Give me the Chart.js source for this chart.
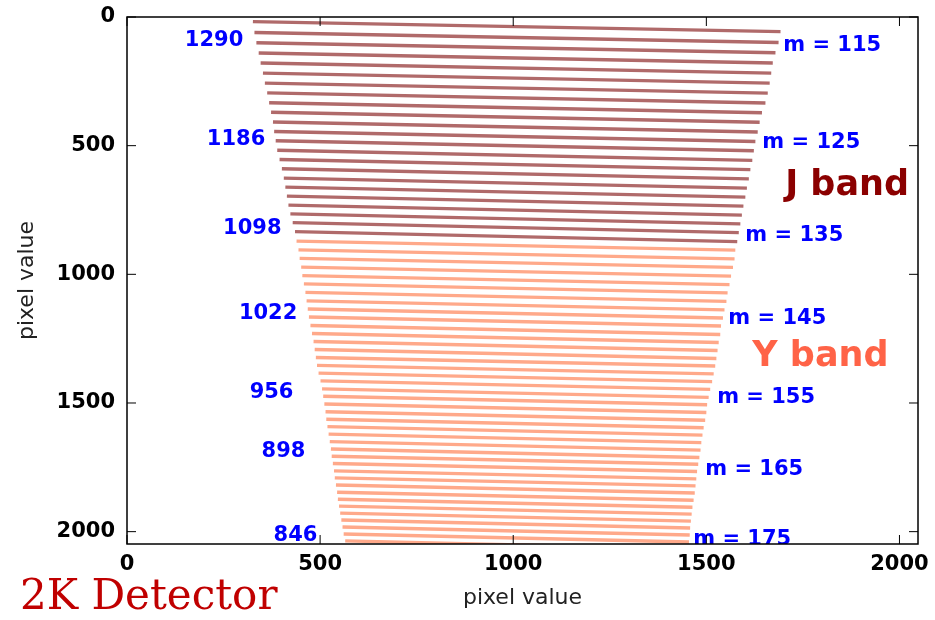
<!DOCTYPE html>
<html>
<head>
<meta charset="utf-8">
<script src="https://cdn.jsdelivr.net/npm/chart.js@4.4.1/dist/chart.umd.min.js"></script>
<style>
  html, body { margin: 0; padding: 0; background: #fff; }
  #wrap { width: 935px; height: 620px; }
</style>
</head>
<body>
<div id="wrap"><canvas id="c" width="935" height="620"></canvas></div>
<script>
// === Echelle order traces on the 2K detector (pixel coords) ===
const ORDERS = [114,115,116,117,118,119,120,121,122,123,124,125,126,127,128,129,130,131,132,133,134,135,136,
  137,138,139,140,141,142,143,144,145,146,147,148,149,150,151,152,153,154,155,156,
  157,158,159,160,161,162,163,164,165,166,167,168,169,170,171,172,173,174,175,176];
const J_LAST = 136; // orders up to here are J band, the rest Y band

const X_LEFT = [326,330,335,341,346,352,357,363,368,373,378,381,385,389,395,401,406,410,414,418,423,429,435,
  439,444,447,451,454,458,462,465,468,471,475,479,483,486,489,492,496,501,505,508,
  511,514,516,519,522,525,528,530,533,536,538,541,544,546,549,552,555,558,561,565];
const Y_LEFT = [18,60,100,140,179,218,257,295,333,370,408,445,481,518,554,590,626,661,696,731,765,799,834,
  871,905,938,972,1005,1037,1070,1103,1135,1166,1199,1230,1261,1292,1323,1354,1384,1414,1445,1474,
  1504,1534,1563,1592,1621,1650,1679,1707,1735,1764,1791,1819,1847,1874,1901,1928,1955,1982,2009,2036];
const X_RIGHT = [1692,1687,1679,1672,1668,1664,1659,1653,1644,1638,1633,1627,1623,1619,1614,1610,1605,1601,1596,1592,1588,1584,1580,
  1575,1573,1569,1564,1560,1555,1552,1547,1543,1538,1536,1532,1529,1526,1523,1519,1515,1510,1506,1502,
  1500,1497,1493,1490,1487,1485,1482,1479,1476,1474,1472,1470,1467,1464,1462,1460,1458,1457,1455,1454];
const Y_RIGHT = [57,99,139,179,218,257,296,334,372,409,447,484,520,557,593,629,665,700,735,770,804,838,873,
  906,940,973,1007,1040,1072,1105,1138,1170,1201,1234,1265,1296,1327,1356,1387,1417,1447,1478,1507,
  1537,1567,1596,1625,1654,1683,1712,1738,1766,1795,1822,1850,1878,1905,1932,1959,1986,2013,2040,2067];

const TICKS = [0, 500, 1000, 1500, 2000];

// order numbers on the right, wavelengths (nm) on the left
const ORDER_LABELS = ['m = 115','m = 125','m = 135','m = 145','m = 155','m = 165','m = 175'];
const ORDER_LABEL_X = [1699,1645,1601,1557,1528,1497,1466];
const ORDER_LABEL_Y = [111,487,848,1170,1477,1760,2031];
const WAVE_LABELS = ['1290','1186','1098','1022','956','898','846'];
const WAVE_LABEL_X = [301,358,400,441,431,462,493];
const WAVE_LABEL_Y = [91,475,821,1154,1461,1688,2016];

const J_COLOR = '#b06a6a';
const Y_COLOR = '#ffa98a';

Chart.defaults.font.family = '"DejaVu Sans", sans-serif';

const datasets = ORDERS.map((m, i) => ({
  data: [{x: X_LEFT[i], y: Y_LEFT[i]}, {x: X_RIGHT[i], y: Y_RIGHT[i]}],
  showLine: true,
  borderColor: m <= J_LAST ? J_COLOR : Y_COLOR,
  borderWidth: 3.4,
  borderCapStyle: 'butt',
  pointRadius: 0,
}));

const overlay = {
  id: 'overlay',
  afterDatasetsDraw(chart) {
    const {ctx, chartArea: a, scales: {x, y}} = chart;
    ctx.save();
    ctx.beginPath();
    ctx.rect(a.left, a.top, a.right - a.left, a.bottom - a.top);
    ctx.clip();
    ctx.font = 'bold 21px "DejaVu Sans"';
    ctx.fillStyle = '#0000ff';
    ctx.textBaseline = 'middle';
    ctx.textAlign = 'left';
    ORDER_LABELS.forEach((t, i) => ctx.fillText(t, x.getPixelForValue(ORDER_LABEL_X[i]), y.getPixelForValue(ORDER_LABEL_Y[i])));
    ctx.textAlign = 'right';
    WAVE_LABELS.forEach((t, i) => ctx.fillText(t, x.getPixelForValue(WAVE_LABEL_X[i]), y.getPixelForValue(WAVE_LABEL_Y[i])));
    ctx.font = 'bold 35px "DejaVu Sans"';
    ctx.textAlign = 'left';
    ctx.textBaseline = 'alphabetic';
    ctx.fillStyle = '#8b0000';
    ctx.fillText('J band', x.getPixelForValue(1704), y.getPixelForValue(693));
    ctx.fillStyle = '#ff6347';
    ctx.fillText('Y band', x.getPixelForValue(1619), y.getPixelForValue(1358));
    ctx.restore();

    // frame with inward ticks on all sides
    ctx.save();
    ctx.strokeStyle = '#000';
    ctx.lineWidth = 1.5;
    ctx.strokeRect(a.left, a.top, a.right - a.left, a.bottom - a.top);
    ctx.lineWidth = 1;
    ctx.beginPath();
    TICKS.forEach(v => {
      const px = x.getPixelForValue(v), py = y.getPixelForValue(v);
      ctx.moveTo(px, a.bottom); ctx.lineTo(px, a.bottom - 9);
      ctx.moveTo(px, a.top); ctx.lineTo(px, a.top + 9);
      ctx.moveTo(a.left, py); ctx.lineTo(a.left + 9, py);
      ctx.moveTo(a.right, py); ctx.lineTo(a.right - 9, py);
    });
    ctx.stroke();

    ctx.font = '42px "DejaVu Serif"';
    ctx.fillStyle = '#c00000';
    ctx.textAlign = 'left';
    ctx.textBaseline = 'alphabetic';
    ctx.fillText('2K Detector', 20, 609);
    ctx.restore();
  }
};

const tickFont = {size: 21, weight: 'bold'};
const titleFont = {size: 22};

new Chart(document.getElementById('c'), {
  type: 'scatter',
  data: {datasets},
  options: {
    responsive: false,
    animation: false,
    devicePixelRatio: 1,
    layout: {padding: {top: 17, right: 17, left: 0, bottom: 0}},
    plugins: {legend: {display: false}, tooltip: {enabled: false}},
    scales: {
      x: {
        type: 'linear', min: 0, max: 2048,
        afterBuildTicks: s => { s.ticks = TICKS.map(v => ({value: v})); },
        afterFit: s => { s.height = 76; s.paddingLeft = 0; s.paddingRight = 0; },
        ticks: {font: tickFont, color: '#000', padding: 8, maxRotation: 0, callback: v => String(v)},
        grid: {display: false, drawTicks: false},
        border: {display: false},
        title: {display: true, text: 'pixel value', font: titleFont, color: '#222', padding: {top: 0, bottom: 9}}
      },
      y: {
        type: 'linear', min: 0, max: 2048, reverse: true,
        afterBuildTicks: s => { s.ticks = TICKS.map(v => ({value: v})); },
        afterFit: s => { s.width = 127; s.paddingTop = 0; s.paddingBottom = 0; },
        ticks: {font: tickFont, color: '#000', padding: 12, callback: v => String(v)},
        grid: {display: false, drawTicks: false},
        border: {display: false},
        title: {display: true, text: 'pixel value', font: titleFont, color: '#222', padding: {top: 14, bottom: 0}}
      }
    }
  },
  plugins: [overlay]
});
</script>
</body>
</html>
